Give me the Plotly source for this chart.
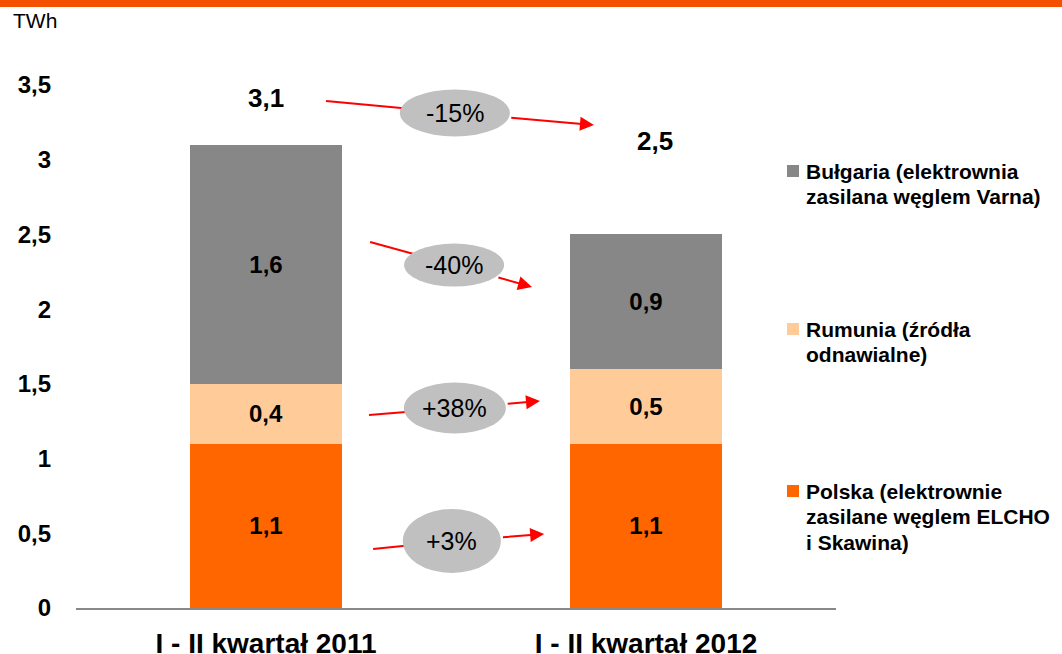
import math
import plotly.graph_objects as go

# ---- data ----
CATEGORIES = ["I - II kwartał 2011", "I - II kwartał 2012"]
SERIES = [
    "Polska (elektrownie<br>zasilane węglem ELCHO<br>i Skawina)",
    "Rumunia (źródła<br>odnawialne)",
    "Bułgaria (elektrownia<br>zasilana węglem Varna)",
]
POLSKA = [1.1, 1.1]
RUMUNIA = [0.4, 0.5]
BULGARIA = [1.6, 0.9]
CHANGES = ["+3%", "+38%", "-40%", "-15%"]   # bottom -> top, last one is the total
Y_TICKS = [0, 0.5, 1, 1.5, 2, 2.5, 3, 3.5]
Y_TICK_TEXT = ["0", "0,5", "1", "1,5", "2", "2,5", "3", "3,5"]
UNIT = "TWh"

COLORS = ["#FF6600", "#FFCC99", "#878787"]
FONT = "Arial, Liberation Sans, sans-serif"

# plot area in pixels (used to convert decoration positions)
L, R, T, B = 76, 226, 85, 46
W, H = 1062, 654
PW, PH = W - L - R, H - T - B
XU = PW / 2.0          # px per category
YU = PH / 3.5          # px per TWh


def fmt(v):
    return f"{v:.1f}".replace(".", ",")


fig = go.Figure()
for name, vals, col in zip(SERIES, [POLSKA, RUMUNIA, BULGARIA], COLORS):
    fig.add_trace(go.Bar(
        x=CATEGORIES, y=vals, name=name.replace("<br>", " "),
        width=0.4, marker=dict(color=col, line=dict(width=0)),
        text=[fmt(v) for v in vals], textposition="inside",
        insidetextanchor="middle", constraintext="none",
        textfont=dict(family=FONT, size=24, color="black", weight="bold"),
        showlegend=False, hoverinfo="skip",
    ))

totals = [a + b + c for a, b, c in zip(POLSKA, RUMUNIA, BULGARIA)]

# total labels (positions)
TOTAL_POS = [(0.0, 3.41), (1.024, 3.125)]
annotations = []
for (x, y), tot in zip(TOTAL_POS, totals):
    annotations.append(dict(x=x, y=y, xref="x", yref="y", text=f"<b>{fmt(tot)}</b>",
                            showarrow=False, font=dict(family=FONT, size=26, color="black")))

# change arrows: tail, ellipse centre, head (x in category units, y in TWh), ellipse size px
ARROWS = [
    ((0.282, 0.395), (0.489, 0.448), (0.732, 0.495), (98, 64)),
    ((0.271, 1.292), (0.497, 1.338), (0.721, 1.385), (102, 51)),
    ((0.274, 2.449), (0.495, 2.295), (0.700, 2.148), (100, 43)),
    ((0.158, 3.393), (0.497, 3.313), (0.863, 3.232), (110, 47)),
]
shapes = []
for (tail, c, head, (ew, eh)), lab in zip(ARROWS, CHANGES):
    shapes.append(dict(type="line", xref="x", yref="y", x0=tail[0], y0=tail[1],
                       x1=c[0], y1=c[1], line=dict(color="#FF0000", width=2)))
    shapes.append(dict(type="circle", xref="x", yref="y", xsizemode="pixel", ysizemode="pixel",
                       xanchor=c[0], yanchor=c[1], x0=-ew / 2, x1=ew / 2, y0=-eh / 2, y1=eh / 2,
                       fillcolor="#C0C0C0", line=dict(width=0)))
    dxp = (head[0] - c[0]) * XU
    dyp = (head[1] - c[1]) * YU
    ang = math.atan2(dyp, dxp)
    r = 1.0 / math.sqrt((math.cos(ang) / (ew / 2)) ** 2 + (math.sin(ang) / (eh / 2)) ** 2)
    annotations.append(dict(x=head[0], y=head[1], ax=c[0], ay=c[1], xref="x", yref="y",
                            axref="x", ayref="y", text="", showarrow=True, arrowhead=2,
                            arrowsize=1.4, arrowwidth=2, arrowcolor="#FF0000",
                            startstandoff=r + 1))
    annotations.append(dict(x=c[0], y=c[1], xref="x", yref="y", text=lab, showarrow=False,
                            font=dict(family=FONT, size=25, color="black")))


# legend drawn by hand (top entry first)
def py2paper(py):
    return (H - B - py) / PH


def px2paper(px):
    return (px - L) / PW


LEG_TOP = [171, 329, 491]   # square centres, px
for name, col, yc in zip(SERIES[::-1], COLORS[::-1], LEG_TOP):
    shapes.append(dict(type="rect", xref="paper", yref="paper",
                       x0=px2paper(787), x1=px2paper(799),
                       y0=py2paper(yc + 6), y1=py2paper(yc - 6),
                       fillcolor=col, line=dict(width=0)))
    for i, line in enumerate(name.split("<br>")):
        annotations.append(dict(x=px2paper(804), y=py2paper(yc + i * 25.5), xref="paper",
                                yref="paper", xanchor="left", yanchor="middle",
                                text=f"<b>{line}</b>", showarrow=False,
                                font=dict(family=FONT, size=21, color="black")))

# unit label and orange band at the top
annotations.append(dict(x=px2paper(11), y=py2paper(21), xref="paper", yref="paper",
                        xanchor="left", yanchor="middle", text=UNIT, showarrow=False,
                        font=dict(family=FONT, size=21, color="black")))
shapes.append(dict(type="rect", xref="paper", yref="paper", x0=px2paper(0), x1=px2paper(W),
                   y0=py2paper(7), y1=py2paper(0), fillcolor="#F45000", line=dict(width=0)))

fig.update_layout(
    barmode="stack",
    width=W, height=H,
    margin=dict(l=L, r=R, t=T, b=B),
    paper_bgcolor="white", plot_bgcolor="white",
    font=dict(family=FONT, color="black"),
    shapes=shapes,
    annotations=annotations,
    showlegend=False,
)
fig.update_xaxes(
    showline=True, linecolor="#888888", linewidth=1.5, showgrid=False, zeroline=False,
    ticks="", ticklabelstandoff=10, automargin=False,
    tickfont=dict(family=FONT, size=28, color="black", weight="bold"),
)
fig.update_yaxes(
    range=[0, 3.5], tickvals=Y_TICKS, ticktext=Y_TICK_TEXT, showgrid=False, zeroline=False,
    showline=False, ticks="", ticklabelstandoff=24, automargin=False,
    tickfont=dict(family=FONT, size=24, color="black", weight="bold"),
)

# drop the browser's default body margin so the figure sits at the window corner
fig.write_html("out.html", config={"displayModeBar": False},
               post_script="document.body.style.margin='0';")
